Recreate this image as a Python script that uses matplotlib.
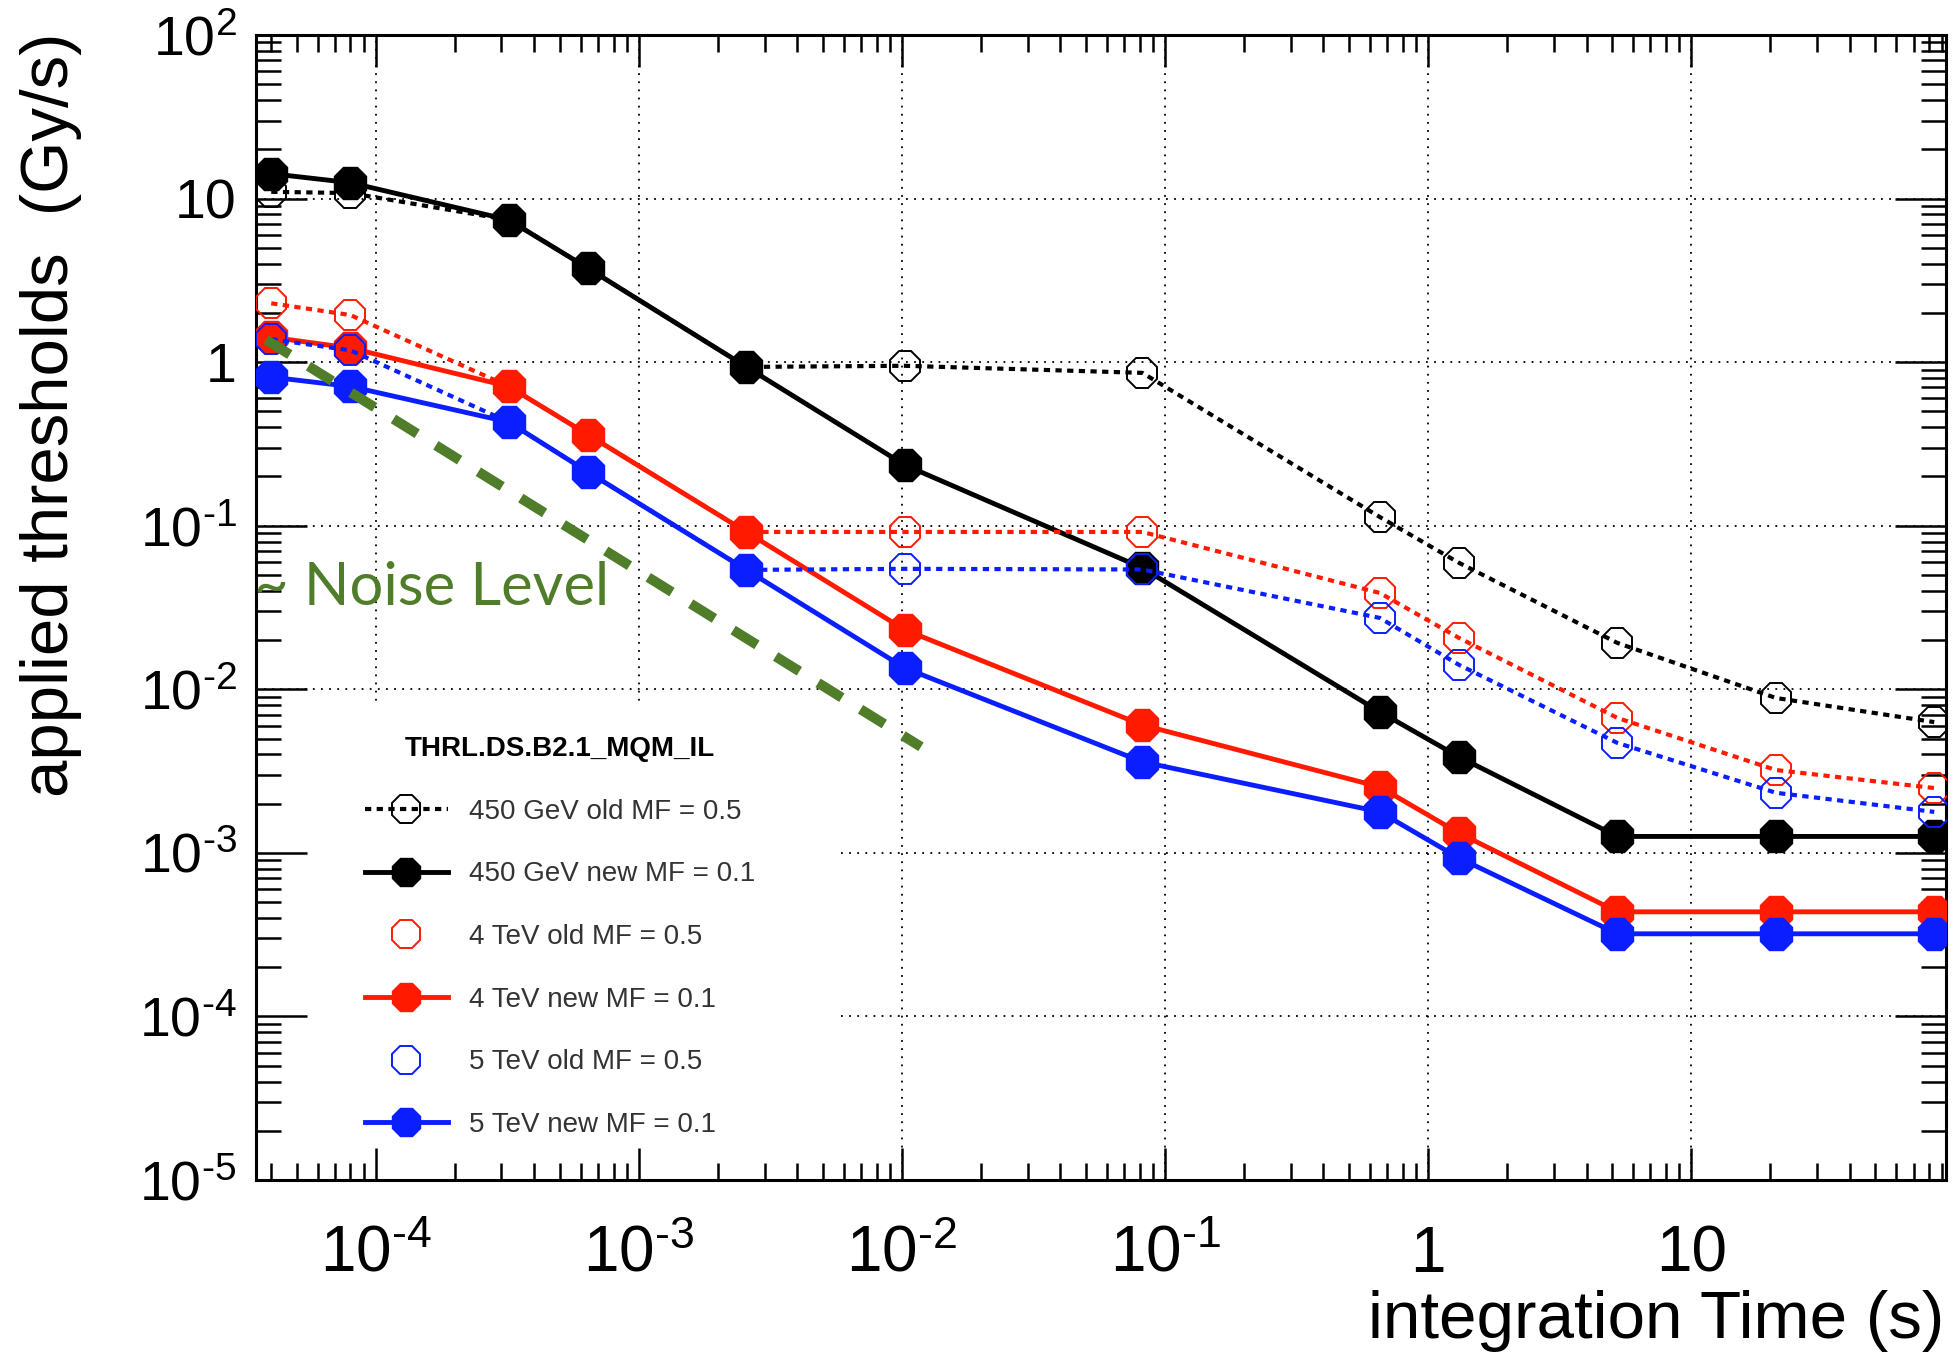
import numpy as np
import matplotlib
matplotlib.use('Agg')
import matplotlib.pyplot as plt
from matplotlib.lines import Line2D
from matplotlib.patches import Rectangle
from matplotlib.ticker import FixedLocator, FixedFormatter, LogLocator, NullFormatter

plt.rcParams['font.family'] = ['Liberation Sans', 'DejaVu Sans']
plt.rcParams['mathtext.fontset'] = 'custom'
plt.rcParams['mathtext.rm'] = 'Liberation Sans'
plt.rcParams['mathtext.it'] = 'Liberation Sans:italic'
plt.rcParams['mathtext.bf'] = 'Liberation Sans:bold'

# BLM running-sum integration times (s)
int_time = [4e-5, 8e-5, 3.2e-4, 6.4e-4, 2.56e-3, 1.024e-2,
            8.192e-2, 0.655, 1.31, 5.24, 20.97, 83.89]

# applied thresholds (Gy/s)
gev450_old = [11.0, 10.8, 7.4, 3.75, 0.935, 0.95, 0.86, 0.113, 0.0593, 0.0192, 0.00885, 0.0063]
gev450_new = [14.2, 12.5, 7.4, 3.75, 0.935, 0.235, 0.0552, 0.00728, 0.00386, 0.00126, 0.00126, 0.00126]
tev4_old = [2.29, 1.94, 0.71, 0.36, 0.0916, 0.0916, 0.0916, 0.0388, 0.0206, 0.00668, 0.00321, 0.00249]
tev4_new = [1.42, 1.22, 0.71, 0.36, 0.0916, 0.0231, 0.00605, 0.00253, 0.00132, 0.000436, 0.000436, 0.000436]
tev5_old = [1.38, 1.18, 0.43, 0.213, 0.0537, 0.0545, 0.054, 0.0273, 0.0141, 0.0047, 0.00233, 0.00178]
tev5_new = [0.81, 0.71, 0.43, 0.213, 0.0537, 0.0135, 0.0036, 0.00178, 0.00093, 0.00032, 0.00032, 0.00032]

# rough noise level estimate
noise_t = [3.82e-5, 1.18e-2]
noise_level = [1.37, 4.45e-3]

xtick_vals = [1e-4, 1e-3, 1e-2, 1e-1, 1, 10]
xtick_labels = ['10$^{\\text{-4}}$', '10$^{\\text{-3}}$', '10$^{\\text{-2}}$',
                '10$^{\\text{-1}}$', '1', '10']
ytick_vals = [1e-5, 1e-4, 1e-3, 1e-2, 1e-1, 1, 10, 100]
ytick_labels = ['10$^{\\text{-5}}$', '10$^{\\text{-4}}$', '10$^{\\text{-3}}$',
                '10$^{\\text{-2}}$', '10$^{\\text{-1}}$', '1', '10', '10$^{\\text{2}}$']

RED = '#ff1a00'
BLUE = '#0a1eff'
GREEN = '#507d2a'
DOT = (0, (1.5, 1.3))

fig = plt.figure(figsize=(19.53, 13.52), dpi=100)
ax = fig.add_axes([256/1953, 1-1180/1352, 1690/1953, 1145/1352])
ax.set_xscale('log')
ax.set_yscale('log')
ax.set_xlim(3.5e-5, 93)
ax.set_ylim(1e-5, 1e2)

# dotted grid on the decades
for v in xtick_vals:
    ax.axvline(v, color='black', lw=1.3, ls=(0, (1, 3.5)), zorder=1)
for v in ytick_vals[1:-1]:
    ax.axhline(v, color='black', lw=1.3, ls=(0, (1, 3.5)), zorder=1)

# white legend pad hides the grid underneath
ax.add_patch(Rectangle((0, 0), 0.343, 0.414, transform=ax.transAxes,
                       facecolor='white', edgecolor='none', zorder=1.5))

series = [
    (gev450_old, 'black', DOT, False),
    (gev450_new, 'black', '-', True),
    (tev4_old, RED, DOT, False),
    (tev4_new, RED, '-', True),
    (tev5_old, BLUE, DOT, False),
    (tev5_new, BLUE, '-', True),
]
for i, (vals, col, ls, filled) in enumerate(series):
    if filled:
        ax.plot(int_time, vals, color=col, ls=ls, lw=3.5, marker='8', ms=25,
                mfc=col, mec=col, zorder=3 + i)
    else:
        ax.plot(int_time, vals, color=col, ls=ls, lw=3, marker='8', ms=23,
                mfc='none', mec=col, mew=1.4, zorder=3 + i)

ax.plot(noise_t, noise_level, color=GREEN, lw=7.2, ls=(0, (2.8, 2.2)),
        solid_capstyle='butt', dash_capstyle='butt', zorder=10)
ax.text(-0.001, 0.502, '~ Noise Level', transform=ax.transAxes, color=GREEN,
        fontsize=43, family=['Lato', 'DejaVu Sans'], ha='left', va='baseline', zorder=11)

# ticks
ax.xaxis.set_major_locator(FixedLocator(xtick_vals))
ax.xaxis.set_major_formatter(FixedFormatter(xtick_labels))
ax.xaxis.set_minor_locator(LogLocator(base=10, subs=np.arange(2, 10), numticks=30))
ax.xaxis.set_minor_formatter(NullFormatter())
ax.yaxis.set_major_locator(FixedLocator(ytick_vals))
ax.yaxis.set_major_formatter(FixedFormatter(ytick_labels))
ax.yaxis.set_minor_locator(LogLocator(base=10, subs=np.arange(2, 10), numticks=30))
ax.yaxis.set_minor_formatter(NullFormatter())

ax.tick_params(which='both', direction='in', top=True, right=True, width=1.8, color='black')
ax.tick_params(axis='x', which='major', length=23, labelsize=46, pad=66)
ax.tick_params(axis='x', which='minor', length=12)
ax.tick_params(axis='y', which='major', length=37, labelsize=40, pad=14)
ax.tick_params(axis='y', which='minor', length=18)
for lab in ax.get_xticklabels():
    lab.set_va('baseline')
for s in ax.spines.values():
    s.set_linewidth(2.2)

# legend
handles = [
    Line2D([], [], color='black', ls=DOT, lw=3, marker='8', ms=22, mfc='none', mec='black', mew=1.4),
    Line2D([], [], color='black', ls='-', lw=3.5, marker='8', ms=22, mfc='black', mec='black'),
    Line2D([], [], ls='none', marker='8', ms=22, mfc='none', mec=RED, mew=1.4),
    Line2D([], [], color=RED, ls='-', lw=3.5, marker='8', ms=22, mfc=RED, mec=RED),
    Line2D([], [], ls='none', marker='8', ms=22, mfc='none', mec=BLUE, mew=1.4),
    Line2D([], [], color=BLUE, ls='-', lw=3.5, marker='8', ms=22, mfc=BLUE, mec=BLUE),
]
labels = ['450 GeV old MF = 0.5', '450 GeV new MF = 0.1', '4 TeV old MF = 0.5',
          '4 TeV new MF = 0.1', '5 TeV old MF = 0.5', '5 TeV new MF = 0.1']
leg = ax.legend(handles, labels, title='THRL.DS.B2.1_MQM_IL', loc='upper left',
                bbox_to_anchor=(0.056, 0.400), frameon=False, fontsize=20,
                title_fontproperties={'weight': 'bold', 'size': 20},
                handlelength=3.0, handletextpad=0.75, labelspacing=1.32, borderpad=0)
for t in leg.get_texts():
    t.set_color('#333333')
leg.set_zorder(12)

fig.text(51/1953, 1-33/1352, 'applied thresholds  (Gy/s)', rotation=90,
         ha='center', va='top', fontsize=48.3)
fig.text(1944/1953, 1-1338/1352, 'integration Time (s)', ha='right',
         va='baseline', fontsize=48.5)

fig.savefig('out.png', dpi=100)
